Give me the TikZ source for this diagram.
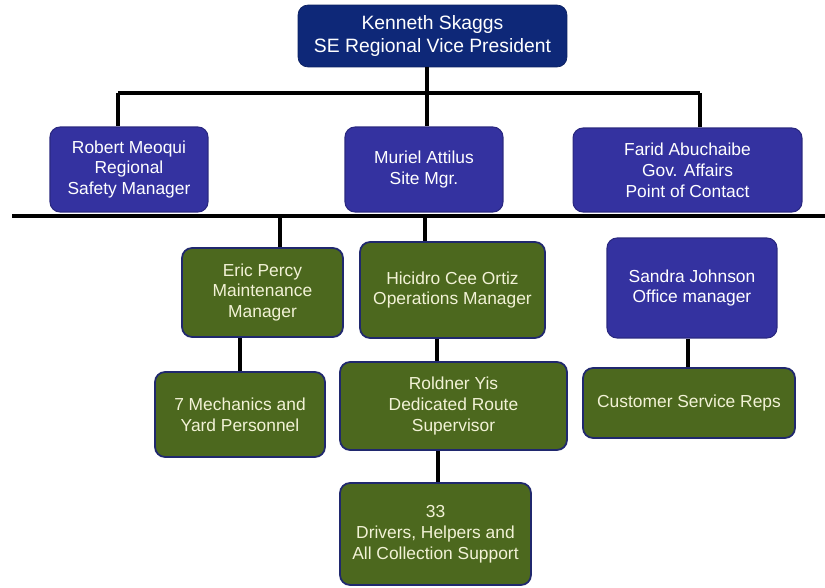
\documentclass[tikz,border=0pt]{standalone}
\usepackage{fontspec}
\setmainfont{Liberation Sans}
\definecolor{topnavy}{RGB}{14,40,120}
\definecolor{boxblue}{RGB}{52,50,160}
\definecolor{boxgreen}{RGB}{76,104,30}
\definecolor{edgenavy}{RGB}{32,40,110}
\definecolor{textcream}{RGB}{242,242,214}
\begin{document}
\begin{tikzpicture}[x=0.02cm, y=-0.02cm,
  box/.style={rounded corners=0.2cm, align=center, inner sep=0pt,
    font=\fontsize{9.9}{11.9}\selectfont},
  topbox/.style={box, fill=topnavy, draw=topnavy!80!black, text=white,
    font=\fontsize{11}{13}\selectfont},
  bluebox/.style={box, fill=boxblue, draw=boxblue!80!black, line width=.6pt, text=white},
  greenbox/.style={box, fill=boxgreen, draw=edgenavy, line width=1pt, text=textcream},
  link/.style={line width=2.2pt},
  bar/.style={line width=2.4pt}]
  \useasboundingbox (0,0) rectangle (825,588);

  \coordinate (topbarL) at (118,93);
  \coordinate (topbarR) at (700,93);
  \coordinate (kslink)  at (427,93);
  \coordinate (midbarL) at (12,216);
  \coordinate (midbarR) at (825,216);
  \coordinate (eplink)  at (280,216);
  \coordinate (holink)  at (425,216);
  \coordinate (mechlink) at (240,355);
  \coordinate (rylink)  at (437,355);
  \coordinate (drlink)  at (438,466);
  \coordinate (csrlink) at (688,355);

  \node[topbox, minimum width=5.38cm, minimum height=1.24cm] (ks) at (432.5,36)
    {Kenneth Skaggs\\SE Regional Vice President};
  \node[bluebox, minimum width=3.16cm, minimum height=1.7cm] (rm) at (129,169.5)
    {Robert Meoqui\\Regional\\Safety Manager};
  \node[bluebox, minimum width=3.16cm, minimum height=1.7cm] (ma) at (424,169.5)
    {Muriel Attilus\\Site Mgr.};
  \node[bluebox, minimum width=4.58cm, minimum height=1.68cm] (fa) at (687.5,170)
    {Farid Abuchaibe\\Gov. Affairs\\Point of Contact};
  \node[greenbox, minimum width=3.22cm, minimum height=1.78cm] (ep) at (262.5,292.5)
    {Eric Percy\\Maintenance\\Manager};
  \node[greenbox, minimum width=3.7cm, minimum height=1.92cm] (ho) at (452.5,290)
    {Hicidro Cee Ortiz\\Operations Manager};
  \node[bluebox, minimum width=3.4cm, minimum height=2cm] (sj) at (692,288)
    {Sandra Johnson\\Office manager};
  \node[greenbox, minimum width=3.4cm, minimum height=1.7cm] (mech) at (240,414.5)
    {7 Mechanics and\\Yard Personnel};
  \node[greenbox, minimum width=4.54cm, minimum height=1.76cm] (ry) at (453.5,406)
    {Roldner Yis\\Dedicated Route\\Supervisor};
  \node[greenbox, minimum width=4.24cm, minimum height=1.4cm] (csr) at (689,403)
    {Customer Service Reps};
  \node[greenbox, minimum width=3.82cm, minimum height=2.04cm] (dr) at (435.5,534)
    {33\\Drivers, Helpers and\\All Collection Support};

  \draw[bar] (topbarL)--(topbarR);
  \draw[link] (kslink |- ks.south)--(kslink |- ma.north);
  \draw[link] (topbarL)--(topbarL |- rm.north);
  \draw[link] (topbarR)--(topbarR |- fa.north);
  \draw[bar] (midbarL)--(midbarR);
  \draw[link] (eplink)--(eplink |- ep.north);
  \draw[link] (holink)--(holink |- ho.north);
  \draw[link] (mechlink |- ep.south)--(mechlink |- mech.north);
  \draw[link] (rylink |- ho.south)--(rylink |- ry.north);
  \draw[link] (drlink |- ry.south)--(drlink |- dr.north);
  \draw[link] (csrlink |- sj.south)--(csrlink |- csr.north);
\end{tikzpicture}
\end{document}
